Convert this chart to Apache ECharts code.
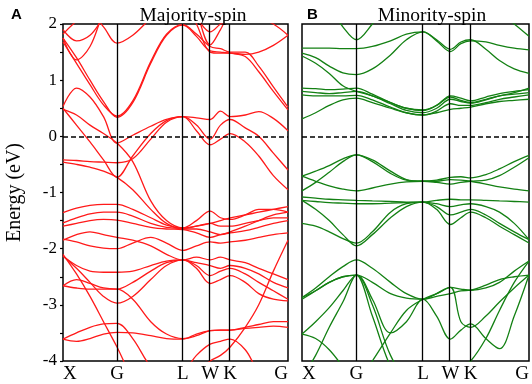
<!DOCTYPE html>
<html>
<head>
<meta charset="utf-8">
<script src="https://cdn.jsdelivr.net/npm/echarts@6/dist/echarts.min.js"></script>
<style>
  html, body { margin: 0; padding: 0; background: #fff; }
  #chart { width: 532px; height: 384px; }
</style>
</head>
<body>
<div id="chart"></div>
<script>
// k-path sample points (fraction of path), high symmetry points and their labels
const kGrid = [0, 0.06, 0.12, 0.18, 0.24, 0.31, 0.39, 0.46, 0.533, 0.593, 0.654, 0.70, 0.743, 0.81, 0.87, 0.935, 1.0];
const symPoints = [0, 0.24, 0.533, 0.654, 0.743, 1.0];
const symLabels = ['X', 'G', 'L', 'W', 'K', 'G'];
const energyTicks = [-4, -3, -2, -1, 0, 1, 2];

// majority-spin bands, energy (eV) at each kGrid point
const majBands = [
  [1.82, 2.05, 2.2, 1.95, 1.66, 1.8, 2.1, 2.3, 2.3, 2.1, 1.86, 2.0, 2.1, 2.15, 2.1, 2.0, 1.8],
  [1.75, 1.36, 1.6, 2.2, 2.6, 2.6, 2.6, 2.6, 2.6, 2.2, 1.63, 1.9, 2.2, 2.3, 2.3, 2.3, 2.3],
  [1.75, 1.4, 1.0, 0.62, 0.34, 0.6, 1.3, 1.8, 1.98, 1.78, 1.52, 1.5, 1.48, 1.42, 1.15, 0.8, 0.47],
  [1.68, 1.3, 0.92, 0.56, 0.36, 0.63, 1.33, 1.82, 1.99, 1.82, 1.6, 1.56, 1.5, 1.5, 1.25, 0.88, 0.52],
  [1.9, 1.7, 1.8, 2.1, 2.3, 2.4, 2.4, 2.4, 2.4, 2.0, 1.5, 1.48, 1.48, 1.46, 1.5, 1.62, 1.8],
  [0.53, 0.86, 0.7, 0.35, -0.12, 0.02, 0.18, 0.3, 0.35, 0.33, 0.3, 0.45, 0.35, 0.38, 0.44, 0.32, 0.1],
  [0.5, 0.2, -0.1, -0.42, -0.73, -0.35, 0.05, 0.28, 0.35, 0.2, -0.05, 0.2, 0.3, 0.15, 0.0, -0.3, -0.6],
  [0.48, 0.38, 0.2, 0.05, -0.12, -0.45, -1.15, -1.5, -1.63, -1.6, -1.55, -1.5, -1.45, -1.4, -1.35, -1.3, -1.25],
  [-0.42, -0.43, -0.45, -0.46, -0.47, -0.4, -0.05, 0.25, 0.35, 0.1, -0.15, -0.05, 0.05, -0.1, -0.35, -0.7, -0.95],
  [-0.46, -0.5, -0.55, -0.62, -0.73, -0.95, -1.3, -1.55, -1.65, -1.65, -1.7, -1.75, -1.7, -1.6, -1.5, -1.4, -1.35],
  [-1.36, -1.28, -1.23, -1.21, -1.21, -1.3, -1.45, -1.58, -1.63, -1.5, -1.33, -1.45, -1.48, -1.4, -1.3, -1.3, -1.35],
  [-1.54, -1.45, -1.38, -1.35, -1.35, -1.42, -1.55, -1.62, -1.64, -1.6, -1.55, -1.6, -1.6, -1.55, -1.5, -1.45, -1.45],
  [-1.6, -1.55, -1.5, -1.48, -1.49, -1.55, -1.62, -1.65, -1.66, -1.72, -1.8, -1.75, -1.72, -1.68, -1.62, -1.55, -1.5],
  [-1.83, -1.88, -1.95, -1.99, -2.0, -1.9, -1.8, -1.9, -2.03, -1.95, -1.88, -1.9, -1.88, -1.85, -1.8, -1.75, -1.72],
  [-1.85, -1.75, -1.7, -1.75, -1.8, -1.85, -1.95, -2.1, -2.2, -2.15, -2.2, -2.15, -2.2, -2.25, -2.35, -2.45, -2.55],
  [-2.13, -2.3, -2.4, -2.42, -2.42, -2.4, -2.3, -2.22, -2.2, -2.25, -2.3, -2.35, -2.3, -2.35, -2.45, -2.6, -2.7],
  [-2.13, -2.35, -2.6, -2.85, -2.97, -2.85, -2.55, -2.3, -2.2, -2.35, -2.62, -2.55, -2.48, -2.6, -2.8, -2.9, -2.93],
  [-2.66, -2.7, -2.72, -2.72, -2.72, -2.9, -3.3, -3.52, -3.6, -3.55, -3.46, -3.45, -3.45, -3.4, -3.35, -3.3, -3.3],
  [-2.1, -2.45, -2.85, -3.3, -3.75, -4.3, -4.6, -4.6, -4.4, -4.2, -4.0, -3.9, -3.75, -3.4, -3.0, -2.4, -1.85],
  [-3.61, -3.65, -3.6, -3.52, -3.49, -3.5, -3.55, -3.6, -3.61, -3.52, -3.46, -3.45, -3.45, -3.42, -3.4, -3.38, -3.4],
  [-3.61, -3.5, -3.4, -3.34, -3.33, -3.6, -4.1, -4.3, -4.2, -3.9, -3.7, -3.65, -3.61, -3.8, -4.2, -4.4, -4.5],
  [-2.66, -2.55, -2.62, -2.7, -2.72, -2.6, -2.4, -2.25, -2.2, -2.3, -2.48, -2.4, -2.35, -2.45, -2.6, -2.75, -2.9]
];

// minority-spin bands
const minBands = [
  [2.6, 2.5, 2.3, 1.95, 1.72, 2.0, 2.4, 2.6, 2.6, 2.6, 2.6, 2.6, 2.6, 2.4, 2.2, 2.0, 1.78],
  [1.57, 1.57, 1.57, 1.56, 1.56, 1.6, 1.7, 1.82, 1.86, 1.7, 1.51, 1.65, 1.7, 1.68, 1.62, 1.57, 1.54],
  [1.48, 1.4, 1.25, 1.13, 1.1, 1.2, 1.45, 1.72, 1.86, 1.72, 1.55, 1.68, 1.72, 1.55, 1.35, 1.2, 1.12],
  [1.43, 1.3, 1.12, 0.9, 0.8, 0.72, 0.6, 0.5, 0.46, 0.55, 0.7, 0.64, 0.6, 0.66, 0.72, 0.78, 0.86],
  [0.86, 0.85, 0.83, 0.84, 0.86, 0.75, 0.6, 0.5, 0.47, 0.55, 0.72, 0.68, 0.63, 0.7, 0.76, 0.8, 0.83],
  [0.8, 0.78, 0.76, 0.78, 0.8, 0.72, 0.58, 0.46, 0.42, 0.5, 0.66, 0.62, 0.59, 0.65, 0.72, 0.75, 0.78],
  [0.74, 0.72, 0.72, 0.72, 0.73, 0.65, 0.52, 0.42, 0.38, 0.45, 0.58, 0.55, 0.55, 0.6, 0.66, 0.7, 0.74],
  [0.31, 0.42, 0.55, 0.65, 0.68, 0.6, 0.5, 0.42, 0.38, 0.42, 0.48, 0.5, 0.52, 0.58, 0.62, 0.64, 0.66],
  [-0.71, -0.62, -0.52, -0.4, -0.33, -0.42, -0.62, -0.77, -0.8, -0.78, -0.73, -0.72, -0.74, -0.68, -0.58, -0.45, -0.34],
  [-0.97, -0.82, -0.64, -0.45, -0.33, -0.45, -0.66, -0.78, -0.8, -0.8, -0.77, -0.78, -0.8, -0.85, -0.9, -0.94, -0.97],
  [-0.71, -0.8, -0.88, -0.94, -0.97, -0.92, -0.85, -0.81, -0.8, -0.82, -0.85, -0.82, -0.8, -0.78, -0.7, -0.55, -0.38],
  [-1.08, -1.1, -1.12, -1.13, -1.14, -1.15, -1.16, -1.17, -1.17, -1.14, -1.12, -1.13, -1.13, -1.14, -1.15, -1.16, -1.17],
  [-1.14, -1.16, -1.18, -1.19, -1.2, -1.2, -1.19, -1.18, -1.17, -1.2, -1.25, -1.22, -1.2, -1.25, -1.35, -1.55, -1.84],
  [-1.55, -1.6, -1.7, -1.82, -1.9, -1.7, -1.35, -1.2, -1.17, -1.3, -1.57, -1.45, -1.35, -1.45, -1.6, -1.75, -1.9],
  [-1.14, -1.3, -1.5, -1.75, -1.95, -1.75, -1.45, -1.25, -1.17, -1.25, -1.4, -1.35, -1.3, -1.4, -1.55, -1.7, -1.84],
  [-2.87, -2.7, -2.5, -2.32, -2.2, -2.35, -2.6, -2.8, -2.9, -2.8, -2.69, -2.72, -2.74, -2.7, -2.6, -2.4, -2.22],
  [-2.87, -2.75, -2.6, -2.5, -2.47, -2.6, -2.8, -2.88, -2.9, -2.85, -2.8, -2.75, -2.74, -2.65, -2.55, -2.5, -2.47],
  [-2.9, -2.75, -2.6, -2.5, -2.47, -2.9, -3.5, -3.3, -2.9, -3.2, -3.61, -3.45, -3.34, -3.6, -3.78, -3.2, -2.47],
  [-3.52, -3.3, -3.05, -2.75, -2.47, -3.0, -3.9, -4.3, -4.4, -4.3, -4.2, -4.1, -4.0, -3.6, -3.1, -2.6, -2.22],
  [-4.3, -3.9, -3.4, -2.95, -2.47, -3.2, -4.1, -4.5, -4.5, -4.4, -4.3, -4.3, -4.3, -4.3, -4.3, -4.3, -4.3],
  [-3.52, -3.6, -3.8, -4.1, -4.4, -4.0, -3.5, -3.1, -2.9, -2.8, -2.69, -3.3, -3.4, -3.2, -2.95, -2.7, -2.47]
];

const chart = echarts.init(document.getElementById('chart'));
const serif = 'Liberation Serif, Times New Roman, serif';

function bandSeries(bands, color, idx) {
  return bands.map((b, j) => {
    const s = {
      type: 'line',
      xAxisIndex: idx,
      yAxisIndex: idx,
      data: kGrid.map((k, i) => [k, b[i]]),
      smooth: 0.35,
      symbol: 'none',
      lineStyle: { color: color, width: 1.3 },
      silent: true,
      z: 2
    };
    if (j === 0) {
      s.markLine = {
        silent: true,
        symbol: ['none', 'none'],
        label: { show: false },
        animation: false,
        data: symPoints.slice(1, -1).map(k => ({ xAxis: k, lineStyle: { color: '#000', width: 1.3, type: 'solid' } }))
          .concat([{ yAxis: 0, lineStyle: { color: '#000', width: 1.6, type: [5, 3] } }])
      };
    }
    return s;
  });
}

function xAxisFor(idx) {
  return {
    type: 'value',
    gridIndex: idx,
    min: 0,
    max: 1,
    axisLine: { show: false },
    axisTick: { show: false },
    splitLine: { show: false },
    axisLabel: {
      customValues: symPoints,
      formatter: v => symLabels[symPoints.indexOf(v)],
      alignMinLabel: 'left',
      alignMaxLabel: 'right',
      color: '#000',
      fontFamily: serif,
      fontSize: 19,
      margin: 4
    }
  };
}

const titleStyle = { fontFamily: serif, fontSize: 19.5, fontWeight: 'normal', color: '#000' };
const letterStyle = { fontFamily: 'Liberation Sans, Arial, sans-serif', fontSize: 15, fontWeight: 'bold', color: '#000' };

const option = {
  animation: false,
  title: [
    { text: 'Majority-spin', left: 188, top: 1, textAlign: 'center', textStyle: titleStyle },
    { text: 'Minority-spin', left: 427, top: 1, textAlign: 'center', textStyle: titleStyle },
    { text: 'A', left: 6, top: 2, textStyle: letterStyle },
    { text: 'B', left: 302, top: 2, textStyle: letterStyle }
  ],
  grid: [
    { left: 63, top: 24, width: 225, height: 338, show: true, borderColor: '#000', borderWidth: 1.5, backgroundColor: 'transparent' },
    { left: 302, top: 24, width: 227, height: 338, show: true, borderColor: '#000', borderWidth: 1.5, backgroundColor: 'transparent' }
  ],
  xAxis: [xAxisFor(0), xAxisFor(1)],
  yAxis: [
    {
      type: 'value',
      gridIndex: 0,
      min: -4,
      max: 2,
      interval: 0.5,
      name: 'Energy (eV)',
      nameLocation: 'middle',
      nameGap: 38,
      nameTextStyle: { fontFamily: serif, fontSize: 20, color: '#000' },
      axisLine: { show: false },
      axisTick: { show: true, length: 3, lineStyle: { color: '#000', width: 1.2 } },
      splitLine: { show: false },
      axisLabel: {
        formatter: v => (energyTicks.indexOf(v) >= 0 ? String(v) : ''),
        color: '#000',
        fontFamily: serif,
        fontSize: 17,
        margin: 6
      }
    },
    {
      type: 'value',
      gridIndex: 1,
      min: -4,
      max: 2,
      interval: 0.5,
      axisLine: { show: false },
      axisTick: { show: false },
      splitLine: { show: false },
      axisLabel: { show: false }
    }
  ],
  series: bandSeries(majBands, '#ff1a1a', 0).concat(bandSeries(minBands, '#138013', 1))
};

chart.setOption(option);
</script>
</body>
</html>
